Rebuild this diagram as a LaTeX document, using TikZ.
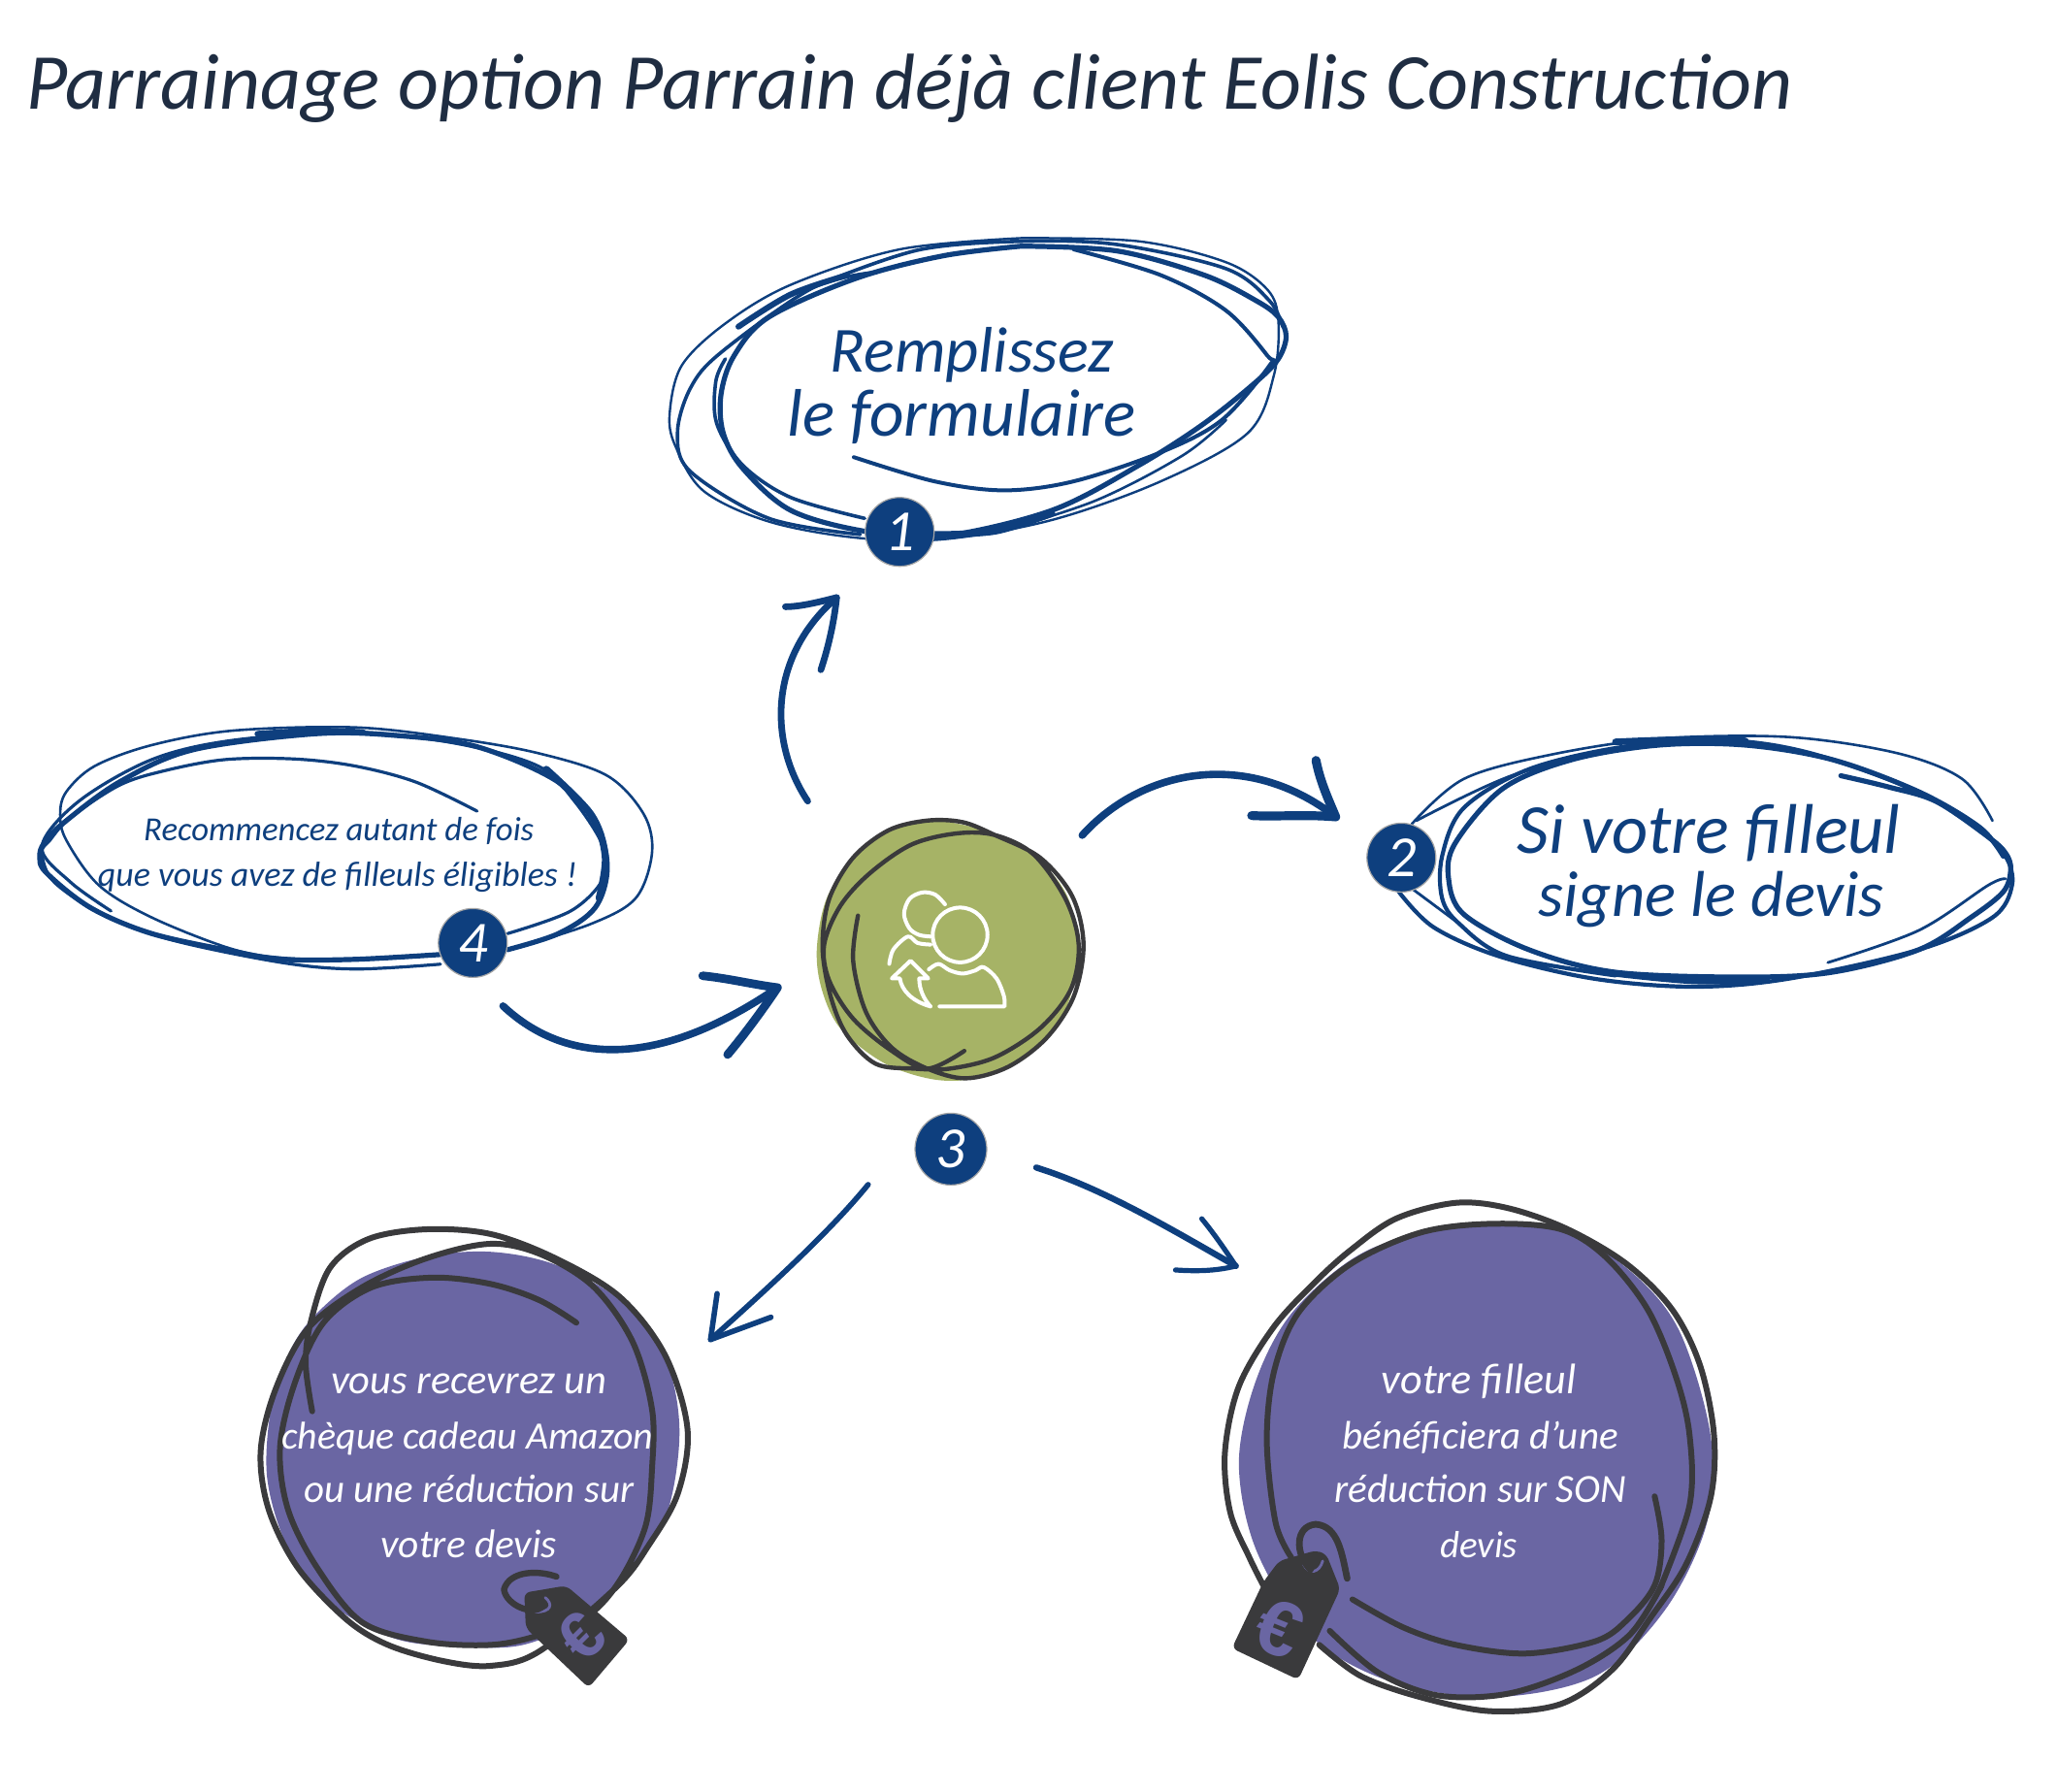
\documentclass[tikz,border=0pt]{standalone}
\usepackage{graphicx}
\usepackage{fontspec}
\setmainfont{Carlito}
\newfontfamily\eurofont{Liberation Sans}
\definecolor{nv}{HTML}{0E3F7E}
\definecolor{dk}{HTML}{3A3A3C}
\definecolor{ttl}{HTML}{1F2D42}
\definecolor{olive}{HTML}{A6B366}
\definecolor{prp}{HTML}{6A66A3}
\newcommand{\fit}[2]{\resizebox{\dimexpr #1pt*6768/10000\relax}{!}{\fontsize{20}{24}\selectfont\itshape #2}}
\tikzset{
  sk/.style={line cap=round,line join=round},
  bl/.style={sk,draw=nv},
  dkl/.style={sk,draw=dk},
  txt/.style={anchor=base,inner sep=0pt,outer sep=0pt},
  badge/.style={circle,fill=nv,draw=gray!70,line width=.6pt,minimum size=35.5pt,inner sep=0pt,text=white,font=\fontsize{30}{32}\selectfont\itshape},
  arw/.style={sk,draw=nv},
  ico/.style={sk,draw=white,line width=2pt},
  zA/.style={shift={(486,162.9)},xscale=.3315,yscale=.2453},
  zB/.style={shift={(1032,546.5)},xscale=.330,yscale=.2453},
  zD/.style={shift={(22.6,546.5)},xscale=.3097,yscale=.2453},
  zC/.style={shift={(576,591.7)},scale=.2453},
  zL/.style={shift={(177.6,916.4)},scale=.2453},
  zR/.style={shift={(922,906.6)},scale=.266},
  zT/.style={shift={(378.3,1190.7)},scale=.2453}
}
\begin{document}
\begin{tikzpicture}[x=.6768pt,y=-.6768pt]
\fill[white] (0,0) rectangle (1566.2,1364.5);
\useasboundingbox (0,0) rectangle (1566.2,1364.5);

% title
\node[txt,text=ttl] (title) at (692.5,83) {\fit{1345}{Parrainage option Parrain déjà client Eolis Construction}};

% ---------- ellipse 1
\begin{scope}[zA]
\draw[bl,line width=1.2pt] plot[smooth,tension=.55] coordinates {(880,75)(1150,85)(1350,150)(1445,235)(1470,330)(1460,500)(1400,680)(1200,830)(950,950)(700,1010)(500,1005)(300,955)(150,860)(85,720)(72,620)(100,470)(200,340)(350,220)(600,110)(880,75)};
\draw[bl,line width=2.6pt] plot[smooth,tension=.55] coordinates {(880,100)(1100,115)(1300,190)(1420,270)(1470,320)(1488,380)(1470,450)(1420,520)(1300,650)(1150,780)(950,920)(700,1000)(520,985)(350,920)(240,790)(195,680)(190,560)(220,440)(300,320)(500,200)(700,130)(880,100)};
\draw[bl,line width=2pt] plot[smooth,tension=.55] coordinates {(1000,110)(1200,190)(1350,300)(1445,440)(1450,470)(1340,640)(1200,740)(1000,830)(840,858)(680,830)(495,755)};
\draw[bl,line width=1.8pt] plot[smooth,tension=.55] coordinates {(450,200)(650,110)(880,85)(1100,95)(1350,170)(1450,270)(1480,350)};
\draw[bl,line width=1.8pt] plot[smooth,tension=.55] coordinates {(520,945)(350,880)(240,780)(180,650)(178,520)(200,450)};
\draw[bl,line width=1.8pt] plot[smooth,tension=.55] coordinates {(510,995)(300,945)(120,800)(90,680)(120,540)(190,430)(400,230)(550,180)};
\draw[bl,line width=1.3pt] plot[smooth,tension=.55] coordinates {(820,990)(1050,890)(1250,750)(1350,640)};
\draw[bl,line width=3.4pt] plot[smooth,tension=.55] coordinates {(680,995)(820,985)(950,930)};
\draw[bl,line width=3pt] plot[smooth,tension=.55] coordinates {(230,350)(350,250)(480,190)};
\end{scope}
\node[txt,text=nv] (t1a) at (740,283) {\fit{216}{Remplissez}};
\node[txt,text=nv] (t1b) at (732,332) {\fit{265}{le formulaire}};
\node[badge] (b1) at (685,405) {1};

% ---------- ellipse 2
\begin{scope}[zB]
\draw[bl,line width=2.6pt] plot[smooth,tension=.55] coordinates {(1120,180)(1230,215)(1340,260)(1460,370)(1500,420)(1512,470)(1495,540)(1420,620)(1300,720)(1100,790)(900,805)(600,790)(400,720)(250,610)(215,500)(230,390)(340,220)(500,130)(700,85)(900,85)(1100,130)(1300,230)(1440,340)(1495,430)};
\draw[bl,line width=1.3pt] plot[smooth,tension=.55] coordinates {(130,330)(250,190)(450,115)(700,65)(1000,60)(1250,110)(1400,190)(1470,320)};
\draw[bl,line width=2.1pt] plot[smooth,tension=.55] coordinates {(100,540)(180,650)(330,740)(550,810)(780,835)(1000,810)(1300,720)(1470,620)(1515,520)(1500,430)(1440,350)(1300,230)(1050,110)(850,70)(620,90)(400,160)(250,280)(200,430)(200,560)(240,640)(350,740)(600,800)};
\draw[bl,line width=1.4pt] plot[smooth,tension=.55] coordinates {(130,530)(230,630)};
\draw[bl,line width=1.4pt] plot[smooth,tension=.55] coordinates {(140,320)(360,180)(600,100)};
\draw[bl,line width=1.4pt] plot[smooth,tension=.55] coordinates {(1090,760)(1300,660)(1460,520)(1500,500)};
\draw[bl,line width=3.4pt] plot[smooth,tension=.55] coordinates {(600,75)(750,68)(900,72)};
\draw[bl,line width=3pt] plot[smooth,tension=.55] coordinates {(600,795)(780,818)(950,815)};
\end{scope}
\node[txt,text=nv] (t2a) at (1301,650) {\fit{292}{Si votre filleul}};
\node[txt,text=nv] (t2b) at (1303,698) {\fit{263}{signe le devis}};
\node[badge] (b2) at (1067,653) {2};

% ---------- ellipse 4
\begin{scope}[zD]
\draw[bl,line width=1.6pt] plot[smooth,tension=.55] coordinates {(1100,290)(950,200)(800,150)(650,128)(480,130)(330,165)(220,210)(100,310)(50,380)(30,420)(60,510)(180,610)(350,690)(620,760)(800,780)(1010,765)};
\draw[bl,line width=1.3pt] plot[smooth,tension=.55] coordinates {(1010,735)(800,750)(620,745)(490,715)(300,620)(170,520)(90,380)(75,300)(90,230)(160,150)(300,85)(500,40)(800,30)(1050,65)(1250,110)(1420,180)(1510,300)(1530,420)(1490,560)(1380,640)(1180,720)};
\draw[bl,line width=1.6pt] plot[smooth,tension=.55] coordinates {(1175,670)(1330,600)(1410,500)(1410,400)(1340,260)(1250,150)(1050,80)(800,45)(500,70)(300,130)(120,260)(30,400)(100,510)(200,600)};
\draw[bl,line width=2.6pt] plot[smooth,tension=.55] coordinates {(1175,720)(1300,670)(1390,590)(1420,470)(1395,340)(1300,200)(1100,90)(900,55)(700,50)(400,100)(220,200)(80,330)(35,390)(25,430)(40,480)(150,590)(300,670)(500,725)(620,750)(800,750)(1010,735)};
\draw[bl,line width=3.6pt] plot[smooth,tension=.55] coordinates {(1270,160)(1380,300)(1415,430)(1400,560)};
\draw[bl,line width=3pt] plot[smooth,tension=.55] coordinates {(560,50)(700,40)(820,45)};
\end{scope}
\node[txt,text=nv] (t4a) at (258,640) {\fit{297}{Recommencez autant de fois}};
\node[txt,text=nv] (t4b) at (257,675) {\fit{365}{que vous avez de filleuls éligibles !}};
\node[badge] (b4) at (360,718) {4};

% ---------- centre
\begin{scope}[zC]
\fill[olive] plot[smooth cycle,tension=.55] coordinates {(600,140)(820,210)(960,360)(995,540)(960,720)(850,860)(700,930)(560,940)(400,890)(260,780)(200,650)(188,520)(225,360)(340,210)(470,150)};
\draw[dkl,line width=2.2pt] plot[smooth,tension=.55] coordinates {(315,430)(300,570)(340,730)(420,840)(530,905)(650,935)(780,900)(900,810)(985,680)(1015,520)(980,370)(880,250)(740,180)(640,140)(530,135)(410,165)(300,250)(225,380)(205,530)(230,680)(280,800)(370,890)(490,905)(600,905)(740,870)(880,780)(975,660)(1000,520)(960,380)(860,240)(740,180)(620,175)(480,210)(350,300)(260,400)(210,520)(225,630)(300,750)(420,850)(530,905)(645,850)};
\draw[ico] plot[smooth,tension=.55] coordinates {(585,395)(555,365)(515,358)(475,378)(458,425)(475,470)(505,490)(540,495)};
\draw[ico] plot[smooth,tension=.55] coordinates {(412,580)(425,535)(470,495)(500,515)(540,520)};
\draw[ico] (632,490) circle[radius=85];
\draw[ico] plot[smooth,tension=.55] coordinates {(535,597)(565,580)(600,600)(640,610)(680,600)(705,590)(745,625)(768,680)(770,712)} -- (568,712);
\draw[ico] (540,712) .. controls (480,695) and (450,660) .. (445,625) -- (420,625) -- (478,570) -- (533,625) -- (505,625) .. controls (505,660) and (520,690) .. (540,712);
\end{scope}
\node[badge,minimum size=37pt] (b3) at (724,875) {3};

% ---------- left purple circle
\begin{scope}[zL]
\fill[prp] plot[smooth cycle,tension=.55] coordinates {(260,340)(400,230)(600,165)(800,150)(1000,190)(1200,300)(1340,480)(1385,700)(1350,950)(1250,1130)(1100,1280)(900,1370)(700,1375)(500,1350)(300,1240)(170,1070)(105,850)(120,620)(180,450)};
\draw[dkl,line width=3pt] plot[smooth,tension=.55] coordinates {(245,645)(225,500)(240,370)(300,200)(420,110)(600,80)(800,95)(1000,170)(1200,290)(1340,470)(1410,700)(1380,900)(1290,1060)(1190,1190)(950,1390)(800,1435)(650,1420)(480,1370)(350,1290)(200,1130)(110,950)(85,770)(130,580)(230,390)(400,260)(600,170)(800,125)(960,160)(1120,260)(1240,430)(1300,640)(1300,820)(1280,1000)(1200,1170)(1100,1280)(950,1340)(800,1370)(600,1360)(400,1300)(260,1130)(170,950)(145,760)(190,560)(280,370)(430,260)(620,230)(800,250)(950,300)(1065,370)};
\end{scope}
\begin{scope}[zT]
\fill[dk,rounded corners=3pt] (85,90)--(215,68)--(412,235)--(285,385)--(90,200)--cycle;
\draw[sk,draw=prp,line width=1.4pt] (150,105) .. controls (175,125) and (170,150) .. (120,150);
\draw[dkl,line width=3.2pt] (185,40) .. controls (130,20) and (40,20) .. (22,80) .. controls (30,130) and (110,160) .. (140,135);
\end{scope}
\node[text=prp,inner sep=0pt,rotate=45,font=\eurofont\bfseries\fontsize{34}{34}\selectfont] (e1) at (443,1246) {€};
\node[txt,text=white] (l1) at (357,1061) {\fit{210}{vous recevrez un}};
\node[txt,text=white] (l2) at (356,1103) {\fit{283}{chèque cadeau Amazon}};
\node[txt,text=white] (l3) at (357,1144) {\fit{251}{ou une réduction sur}};
\node[txt,text=white] (l4) at (357,1186) {\fit{134}{votre devis}};

% ---------- right purple circle
\begin{scope}[zR]
\fill[prp] plot[smooth cycle,tension=.55] coordinates {(750,95)(1000,110)(1200,230)(1340,400)(1430,700)(1420,950)(1300,1200)(1100,1390)(800,1450)(500,1400)(280,1270)(130,1030)(80,780)(130,540)(240,340)(450,170)};
\draw[dkl,line width=3pt] plot[smooth,tension=.55] coordinates {(310,1300)(430,1390)(600,1450)(800,1490)(1000,1470)(1150,1370)(1260,1220)(1360,1070)(1430,880)(1440,700)(1400,500)(1320,340)(1190,210)(1020,110)(850,50)(700,35)(530,80)(400,170)(300,260)(180,390)(80,560)(40,750)(55,920)(110,1050)(150,1130)};
\draw[dkl,line width=3pt] plot[smooth,tension=.55] coordinates {(1285,1140)(1370,900)(1370,700)(1330,530)(1250,340)(1130,190)(1000,110)(800,95)(600,120)(400,210)(250,350)(180,520)(160,720)(185,950)(230,1050)};
\draw[dkl,line width=3pt] plot[smooth,tension=.55] coordinates {(340,1260)(480,1380)(650,1445)(850,1440)(1050,1370)(1200,1270)(1290,1130)};
\draw[dkl,line width=3pt] plot[smooth,tension=.55] coordinates {(405,1170)(550,1250)(700,1300)(900,1325)(1100,1290)(1190,1230)(1270,1130)(1290,1000)(1270,875)};
\fill[dk,rounded corners=3pt] (150,1120)--(195,1060)--(300,1030)--(330,1040)--(370,1140)--(250,1400)--(60,1310)--cycle;
\draw[sk,draw=prp,line width=1.4pt] (265,1070) .. controls (280,1100) and (310,1095) .. (320,1060);
\draw[dkl,line width=3.4pt] (390,1110) .. controls (375,1040) and (365,960) .. (300,955) .. controls (240,960) and (240,1040) .. (285,1085);
\end{scope}
\node[text=prp,inner sep=0pt,rotate=-22,font=\eurofont\bfseries\fontsize{40}{40}\selectfont] (e2) at (974,1240) {€};
\node[txt,text=white] (r1) at (1126,1061) {\fit{148}{votre filleul}};
\node[txt,text=white] (r2) at (1127,1103) {\fit{210}{bénéficiera d'une}};
\node[txt,text=white] (r3) at (1127,1144) {\fit{222}{réduction sur SON}};
\node[txt,text=white] (r4) at (1126,1186) {\fit{59}{devis}};

% ---------- arrows
\coordinate (a1s) at (615,610); \coordinate (a1e) at (637,455);
\coordinate (a1l) at (598,462); \coordinate (a1r) at (625,510);
\draw[arw,line width=3.4pt] (a1s) .. controls (585,565) and (585,500) .. (a1e);
\draw[arw,line width=3.4pt] (a1l) .. controls (610,462) and (625,458) .. (a1e) .. controls (635,475) and (630,495) .. (a1r);

\coordinate (a2s) at (824,636); \coordinate (a2e) at (1017,622);
\coordinate (a2l) at (1002,579); \coordinate (a2r) at (953,621);
\draw[arw,line width=3.8pt] (a2s) .. controls (870,585) and (950,570) .. (a2e);
\draw[arw,line width=4.6pt] (a2l) .. controls (1005,595) and (1012,610) .. (a2e) .. controls (995,620) and (970,622) .. (a2r);

\coordinate (a4s) at (383,766); \coordinate (a4e) at (592,752);
\coordinate (a4l) at (535,743); \coordinate (a4r) at (554,803);
\draw[arw,line width=3.8pt] (a4s) .. controls (430,810) and (500,815) .. (a4e);
\draw[arw,line width=4.4pt] (a4l) .. controls (555,745) and (575,750) .. (a4e) .. controls (580,770) and (565,790) .. (a4r);

\coordinate (a5s) at (661,902); \coordinate (a5e) at (541,1020);
\coordinate (a5l) at (546,985); \coordinate (a5r) at (587,1003);
\draw[arw,line width=2.8pt] (a5s) .. controls (630,940) and (580,985) .. (a5e);
\draw[arw,line width=2.8pt] (a5l) -- (a5e) -- (a5r);

\coordinate (a6s) at (789,889); \coordinate (a6e) at (941,964);
\coordinate (a6l) at (915,928); \coordinate (a6r) at (895,967);
\draw[arw,line width=3.2pt] (a6s) .. controls (840,905) and (890,935) .. (a6e);
\draw[arw,line width=2.6pt] (a6l) .. controls (925,940) and (935,955) .. (a6e) .. controls (925,968) and (910,968) .. (a6r);
\end{tikzpicture}
\end{document}
